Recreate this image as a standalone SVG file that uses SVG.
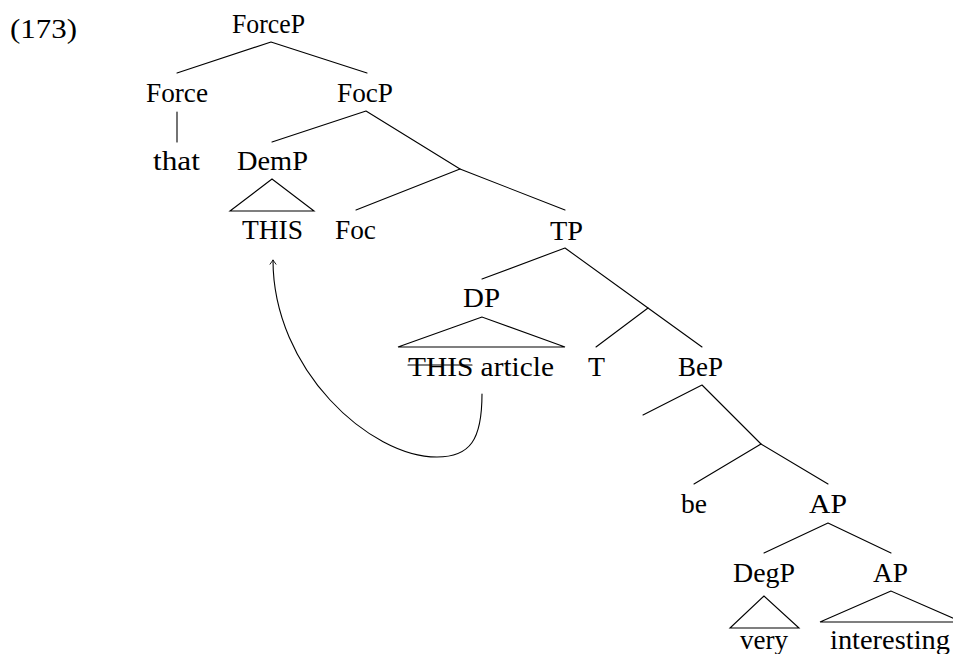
<svg xmlns="http://www.w3.org/2000/svg" width="953" height="654" viewBox="0 0 953 654">
<style>
text{font-family:"Liberation Serif","Times New Roman",serif;font-size:27px;fill:#000;text-anchor:middle}
.e{stroke:#000;stroke-width:1.1;fill:none;stroke-linecap:round}
</style>
<defs>
<marker id="ah" viewBox="-6 -5 8 10" markerWidth="8" markerHeight="10" refX="0" refY="0" orient="auto" markerUnits="userSpaceOnUse">
<path d="M-4.5,-3.2 Q-1.5,-1 0,0 Q-1.5,1 -4.5,3.2" fill="none" stroke="#000" stroke-width="0.9"/>
</marker>
</defs>
<rect width="953" height="654" fill="#fff"/>
<text x="10" y="38" style="text-anchor:start" textLength="67" lengthAdjust="spacingAndGlyphs">(173)</text>
<g id="connectors" class="e">
<path d="M271,42 L177,73 M271,42 L367,73"/>
<path d="M177,112 L177,142"/>
<path d="M366,111 L272,142 M366,111 L460,169"/>
<path d="M460,169 L356,210 M460,169 L565,210"/>
<path d="M565,248 L482,279 M565,248 L648,308"/>
<path d="M648,308 L596,347 M648,308 L702,347"/>
<path d="M702,385 L643,415 M702,385 L761,444"/>
<path d="M761,444 L694,484 M761,444 L828,484"/>
<path d="M828,523 L764,553 M828,523 L891,553"/>
<path d="M482,394 C482,440 470,457 437,457 C370,457 273,370 273,260" marker-end="url(#ah)"/>
</g>
<g id="ForceP"><text x="268.5" y="33" textLength="73" lengthAdjust="spacingAndGlyphs">ForceP</text></g>
<g id="Force"><text x="177" y="102" textLength="62" lengthAdjust="spacingAndGlyphs">Force</text></g>
<g id="FocP"><text x="365" y="102" textLength="56" lengthAdjust="spacingAndGlyphs">FocP</text></g>
<g id="that"><text x="176.5" y="170" textLength="47" lengthAdjust="spacingAndGlyphs">that</text></g>
<g id="DemP"><text x="272.5" y="170" textLength="71" lengthAdjust="spacingAndGlyphs">DemP</text>
<path class="e" d="M272,179 L230,211 L314,211 Z"/>
<text x="272.5" y="239" textLength="61" lengthAdjust="spacingAndGlyphs">THIS</text></g>
<g id="Foc"><text x="355.5" y="239" textLength="41" lengthAdjust="spacingAndGlyphs">Foc</text></g>
<g id="TP"><text x="566.5" y="240" textLength="33" lengthAdjust="spacingAndGlyphs">TP</text></g>
<g id="DP"><text x="481.5" y="307" textLength="37" lengthAdjust="spacingAndGlyphs">DP</text>
<path class="e" d="M482,317 L398,347 L565,347 Z"/>
<text x="481" y="376" textLength="146" lengthAdjust="spacingAndGlyphs">THIS article</text>
<path class="e" d="M408,365 L472,365"/></g>
<g id="T"><text x="596.5" y="376" textLength="17" lengthAdjust="spacingAndGlyphs">T</text></g>
<g id="BeP"><text x="700.5" y="376" textLength="45" lengthAdjust="spacingAndGlyphs">BeP</text></g>
<g id="be"><text x="694" y="513" textLength="26" lengthAdjust="spacingAndGlyphs">be</text></g>
<g id="AP"><text x="828" y="513" textLength="38" lengthAdjust="spacingAndGlyphs">AP</text></g>
<g id="DegP"><text x="764" y="582" textLength="62" lengthAdjust="spacingAndGlyphs">DegP</text>
<path class="e" d="M764,596 L730,628 L799,628 Z"/>
<text x="764" y="649" textLength="48" lengthAdjust="spacingAndGlyphs">very</text></g>
<g id="AP2"><text x="890.5" y="582" textLength="35" lengthAdjust="spacingAndGlyphs">AP</text>
<path class="e" d="M891,591 L820,622 L962,622 Z"/>
<text x="890" y="649" textLength="120" lengthAdjust="spacingAndGlyphs">interesting</text></g>
</svg>
